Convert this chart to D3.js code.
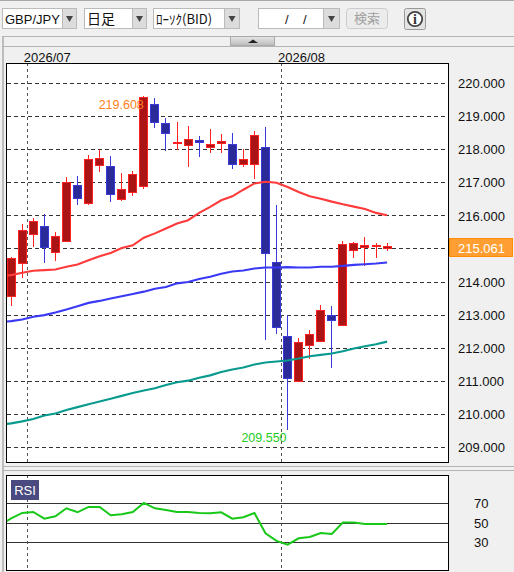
<!DOCTYPE html>
<html><head><meta charset="utf-8">
<script src="https://cdn.jsdelivr.net/npm/d3@7/dist/d3.min.js"></script>
<style>
html,body{margin:0;padding:0;background:#f0f0f0;overflow:hidden}
svg{display:block}
text{font-family:"Liberation Sans",Arial,sans-serif;font-size:13px;fill:#111}
</style></head><body><svg id="c" width="514" height="572"></svg>
<script>
// indices 1..35 are the candles, index 0 is the bar just off the left edge (moving averages only)
const opens =[213.55,214.56,215.44,215.68,214.89,215.23,216.92,216.37,217.52,217.49,216.49,216.71,216.89,219.37,218.79,218.18,218.12,218.28,218.06,218.18,218.16,217.54,217.54,218.07,214.59,212.35,211.00,212.08,212.20,212.98,212.69,214.96,215.04,215.07,215.02];
const highs =[214.74,215.75,215.92,216.04,215.50,217.17,217.20,217.83,218.01,217.80,217.29,217.35,219.608,219.55,218.95,218.83,218.71,218.41,218.62,218.47,218.50,218.00,218.56,218.68,216.32,212.99,212.30,212.55,213.30,213.27,215.23,215.20,215.35,215.17,215.17];
const lows  =[213.30,214.13,215.08,214.58,214.66,215.23,216.33,216.33,217.33,216.42,216.45,216.63,216.82,218.66,217.98,218.00,217.50,217.80,217.92,217.92,217.44,217.50,217.14,212.26,212.46,209.55,211.00,211.68,212.20,211.41,212.69,214.73,214.49,214.73,214.94];
const closes=[214.71,215.55,215.82,215.03,215.37,217.01,216.52,217.70,217.73,216.65,216.80,217.25,219.58,218.82,218.49,218.23,218.31,218.21,218.16,218.25,217.54,217.70,218.43,214.86,212.63,211.08,212.17,212.41,213.14,212.84,215.13,215.16,215.10,215.10,215.061];
const maFast=[214.19,214.21,214.28,214.34,214.36,214.38,214.46,214.53,214.66,214.78,214.88,215.03,215.11,215.34,215.47,215.62,215.77,215.87,216.09,216.27,216.47,216.59,216.79,216.98,217.03,217.00,216.87,216.72,216.59,216.52,216.43,216.35,216.28,216.21,216.09,216.02];
const maMid=[212.79,212.82,212.87,212.95,213.00,213.08,213.17,213.27,213.37,213.43,213.50,213.57,213.64,213.71,213.80,213.85,213.96,214.00,214.09,214.16,214.25,214.32,214.35,214.41,214.44,214.44,214.45,214.44,214.44,214.46,214.46,214.49,214.52,214.54,214.56,214.59];
const maSlow=[209.69,209.73,209.79,209.86,209.97,210.03,210.13,210.22,210.31,210.39,210.47,210.56,210.65,210.72,210.79,210.89,210.97,211.02,211.11,211.18,211.28,211.36,211.42,211.51,211.57,211.60,211.63,211.69,211.76,211.80,211.84,211.91,211.99,212.06,212.12,212.20];
const rsi=[48.3,55.1,60.6,61.6,54.8,57.2,65.4,61.3,66.8,66.8,58.2,59.2,61.6,70.9,65.4,63.7,61.6,61.6,60.6,60.3,61.3,54.8,56.2,60.6,39.7,31.9,28.1,34.6,36.0,40.1,39.1,50.7,50.7,49.3,49.3,49.3];
const priceTicks=[220,219,218,217,216,215,214,213,212,211,210,209];
const rsiTicks=[70,50,30];
const monthPos=[2.5,25.5];
const monthLabels=["2026/07","2026/08"];
const lastPrice="215.061", hiLabel="219.608", loLabel="209.550";
const menus=["GBP/JPY","日足","ﾛｰｿｸ(BID)"," /  /"];

const svg=d3.select("#c");
const L=6,R=448,T=63,B=462,RT=475,RB=570;
const x=d3.scaleLinear().domain([0,35]).range([-0.4,386.6]);
const y=d3.scaleLinear().domain([209,220]).range([447.5,83.5]);
const yr=d3.scaleLinear().domain([30,70]).range([542.8,503.8]);
const px=v=>Math.floor(v)+.5;
const cx=i=>Math.round(x(i))+.5;

// chrome
svg.append("rect").attr("width",514).attr("height",572).attr("fill","#f0f0f0");
svg.append("rect").attr("width",514).attr("height",1).attr("fill","#a8a8a8");
svg.append("rect").attr("x",2).attr("y",36).attr("width",2).attr("height",536).attr("fill","#bdbdbd");
[36,46].forEach(v=>svg.append("rect").attr("x",2).attr("y",v).attr("width",512).attr("height",1).attr("fill","#b4b4b4"));
[466,470].forEach(v=>svg.append("rect").attr("x",2).attr("y",v).attr("width",512).attr("height",1).attr("fill","#b4b4b4"));
const defs=svg.append("defs");
const g=defs.append("linearGradient").attr("id","btn").attr("x1",0).attr("x2",0).attr("y1",0).attr("y2",1);
g.append("stop").attr("offset",0).attr("stop-color","#e6e6e6");g.append("stop").attr("offset",1).attr("stop-color","#bcbcbc");
defs.append("clipPath").attr("id","plot").append("rect").attr("x",L+1).attr("y",T).attr("width",R-L-1).attr("height",B-T);
defs.append("clipPath").attr("id","plotr").append("rect").attr("x",L+1).attr("y",RT).attr("width",R-L-1).attr("height",RB-RT);
svg.append("rect").attr("x",230.5).attr("y",36.5).attr("width",44).attr("height",9).attr("fill","url(#btn)").attr("stroke","#aaa");
svg.append("path").attr("d","M248 43 L253 39.5 L258 43 Z").attr("fill","#222");

// toolbar
const boxes=[[2,77,62],[84,147,132],[153,240,224],[258,340,323]];
boxes.forEach((b,k)=>{
  svg.append("rect").attr("x",b[0]+.5).attr("y",8.5).attr("width",b[1]-b[0]-1).attr("height",20).attr("fill","#fff").attr("stroke","#bbb");
  svg.append("rect").attr("x",b[2]+.5).attr("y",8.5).attr("width",b[1]-b[2]-1).attr("height",20).attr("fill","#dcdcdc").attr("stroke","#bbb");
  const m=(b[1]+b[2])/2;
  svg.append("path").attr("d",`M${m-3.5} 16 L${m+3.5} 16 L${m} 22 Z`).attr("fill","#444");
});
const tb=[[5,menus[0],13,'"Liberation Sans"'],[87,menus[1],14,'"Noto Sans CJK JP"'],[156,menus[2],13,'"Noto Sans CJK JP"']];
tb.forEach(t=>svg.append("text").attr("x",t[0]).attr("y",23.5).text(t[1]).style("font-size",t[2]+"px").style("font-family",t[3]));
svg.append("text").attr("x",285).attr("y",23.5).text("/").style("font-size","13px");
svg.append("text").attr("x",303).attr("y",23.5).text("/").style("font-size","13px");
svg.append("rect").attr("x",346.5).attr("y",8.5).attr("width",41).attr("height",20).attr("rx",3).attr("fill","#ececec").attr("stroke","#ccc");
svg.append("text").attr("x",367).attr("y",23).attr("text-anchor","middle").text("検索").style("font-size","13px").style("font-family",'"Noto Sans CJK JP"').style("fill","#a0a0a0");
svg.append("rect").attr("x",404.5).attr("y",8.5).attr("width",21).attr("height",21).attr("rx",2).attr("fill","#e4e4e4").attr("stroke","#999");
svg.append("circle").attr("cx",415).attr("cy",19).attr("r",7.2).attr("fill","#fff").attr("stroke","#444").attr("stroke-width",1.8);
svg.append("text").attr("x",415).attr("y",24).attr("text-anchor","middle").text("i").style("font-size","14px").style("font-weight","bold").style("font-family",'"Liberation Serif"').style("fill","#333");

// panels
svg.append("rect").attr("x",L).attr("y",T).attr("width",R-L).attr("height",B-T).attr("fill","#fff");
svg.append("rect").attr("x",L).attr("y",RT).attr("width",R-L).attr("height",RB-RT).attr("fill","#fff");

// main panel
const gm=svg.append("g").attr("clip-path","url(#plot)");
gm.selectAll("line.h").data(priceTicks).join("line").attr("x1",L+1).attr("x2",R)
  .attr("y1",d=>px(y(d))).attr("y2",d=>px(y(d))).attr("stroke","#333").attr("stroke-dasharray","4 3");
gm.selectAll("line.v").data(monthPos).join("line").attr("x1",d=>px(x(d)+.4)).attr("x2",d=>px(x(d)+.4))
  .attr("y1",T).attr("y2",B).attr("stroke","#555").attr("stroke-dasharray","3 3");

const candles=opens.map((o,k)=>({i:k+1,o,h:highs[k],l:lows[k],c:closes[k]}));
const up=d=>d.c>=d.o;
const cg=gm.selectAll("g.c").data(candles).join("g");
cg.append("line").attr("x1",d=>cx(d.i)).attr("x2",d=>cx(d.i)).attr("y1",d=>px(y(d.h))-.5).attr("y2",d=>px(y(d.l))+.5)
  .attr("stroke",d=>up(d)?"#ff2222":"#3a3ad8");
cg.append("rect").attr("x",d=>cx(d.i)-4).attr("width",8)
  .attr("y",d=>px(y(Math.max(d.o,d.c))))
  .attr("height",d=>Math.max(1,px(y(Math.min(d.o,d.c)))-px(y(Math.max(d.o,d.c)))))
  .attr("fill",d=>up(d)?"#aa1414":"#2a2a98").attr("stroke",d=>up(d)?"#ff2222":"#3a3ad8");

const line=d3.line().x((d,i)=>x(i)+.5).y(d=>y(d)).curve(d3.curveLinear);
[[maSlow,"#089a8e"],[maMid,"#3a3af5"],[maFast,"#ff3a3a"]].forEach(s=>
  gm.append("path").attr("d",line(s[0])).attr("fill","none").attr("stroke",s[1]).attr("stroke-width",2.1));

// main frame and axes
svg.append("rect").attr("x",L+.5).attr("y",T+.5).attr("width",R-L).attr("height",B-T).attr("fill","none").attr("stroke","#000");
const ay=svg.append("g").attr("transform",`translate(${R},0)`).call(d3.axisRight(y).tickValues(priceTicks).tickSize(0).tickPadding(10).tickFormat(d3.format(".3f")));
ay.select(".domain").remove();
ay.selectAll("text").style("font-size","13px").style("fill","#111");

const ax=svg.append("g").attr("transform",`translate(0,${T-1})`).call(d3.axisTop(x).tickValues(monthPos).tickSize(0).tickPadding(0).tickFormat((d,i)=>monthLabels[i]));
ax.select(".domain").remove();
ax.selectAll("text").attr("text-anchor","start").attr("dx",-4).style("font-size","13px").style("fill","#111");

svg.append("text").attr("x",x(13)+.5).attr("y",y(219.608)+12.5).attr("text-anchor","end").text(hiLabel).style("font-size","12.5px").style("fill","#ff8020");
svg.append("text").attr("x",x(26)-.5).attr("y",y(209.55)+13).attr("text-anchor","end").text(loLabel).style("font-size","12.5px").style("fill","#22cc22");

svg.append("rect").attr("x",449.5).attr("y",238.5).attr("width",63).attr("height",18).attr("fill","#ff9f33").attr("stroke","#ff8c00");
svg.append("text").attr("x",458).attr("y",252.5).text(lastPrice).style("fill","#fff");

// RSI panel
const gr=svg.append("g").attr("clip-path","url(#plotr)");
gr.selectAll("line.h").data(rsiTicks).join("line").attr("x1",L+1).attr("x2",R)
  .attr("y1",d=>px(yr(d))).attr("y2",d=>px(yr(d))).attr("stroke","#333");
gr.selectAll("line.v").data(monthPos).join("line").attr("x1",d=>px(x(d)+.4)).attr("x2",d=>px(x(d)+.4))
  .attr("y1",RT).attr("y2",RB).attr("stroke","#555").attr("stroke-dasharray","3 3");
gr.append("path").attr("d",d3.line().x((d,i)=>x(i)+.5).y(d=>yr(d))(rsi)).attr("fill","none").attr("stroke","#18c818").attr("stroke-width",2);
svg.append("rect").attr("x",L+.5).attr("y",RT+.5).attr("width",R-L).attr("height",RB-RT).attr("fill","none").attr("stroke","#000");
svg.append("rect").attr("x",11).attr("y",480).attr("width",28).attr("height",20).attr("fill","#4a4a80");
svg.append("text").attr("x",25).attr("y",495).attr("text-anchor","middle").text("RSI").style("fill","#fff");
const ar=svg.append("g").attr("transform",`translate(${R},0)`).call(d3.axisRight(yr).tickValues(rsiTicks).tickSize(0).tickPadding(26));
ar.select(".domain").remove();
ar.selectAll("text").style("font-size","13px").style("fill","#111");
</script></body></html>
